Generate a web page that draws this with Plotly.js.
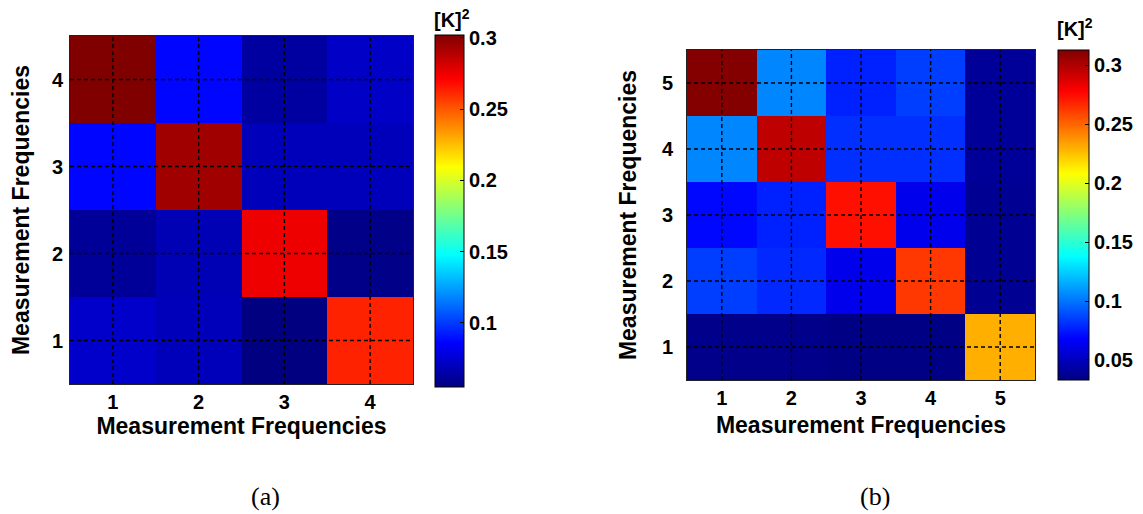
<!DOCTYPE html>
<html>
<head>
<meta charset="utf-8">
<script src="https://cdn.plot.ly/plotly-3.0.1.min.js"></script>
<style>html,body{margin:0;padding:0;background:#fff;}#chart{width:1143px;height:514px;}</style>
</head>
<body>
<div id="chart"></div>
<script>
// ---- data ----
const freqA = [1, 2, 3, 4];
const tickLabelsA = ['1', '2', '3', '4'];
// rows: y = 1..4 (bottom to top), columns: x = 1..4
const zA = [
  [0.073, 0.069, 0.055, 0.263],
  [0.061, 0.068, 0.275, 0.057],
  [0.087, 0.294, 0.069, 0.069],
  [0.302, 0.087, 0.063, 0.072]
];
const freqB = [1, 2, 3, 4, 5];
const tickLabelsB = ['1', '2', '3', '4', '5'];
// rows: y = 1..5 (bottom to top), columns: x = 1..5
const zB = [
  [0.036, 0.036, 0.034, 0.034, 0.230],
  [0.085, 0.079, 0.063, 0.263, 0.038],
  [0.070, 0.077, 0.274, 0.063, 0.038],
  [0.105, 0.296, 0.081, 0.081, 0.040],
  [0.312, 0.105, 0.077, 0.085, 0.040]
];
const cbTicksA = [0.1, 0.15, 0.2, 0.25, 0.3];
const cbTicksB = [0.05, 0.1, 0.15, 0.2, 0.25, 0.3];
const rangeA = [0.055, 0.302];
const rangeB = [0.033, 0.313];
const axisTitle = 'Measurement Frequencies';
const cbTitle = '[K]<sup>2</sup>';
const captions = ['(a)', '(b)'];

// ---- styling ----
const W = 1143, H = 514;
const px = v => v / W, py = v => 1 - v / H;
const jet = [[0, 'rgb(0,0,128)'], [0.125, 'rgb(0,0,255)'], [0.375, 'rgb(0,255,255)'],
             [0.625, 'rgb(255,255,0)'], [0.875, 'rgb(255,0,0)'], [1, 'rgb(128,0,0)']];
const FONT = '"Liberation Sans", Arial, sans-serif';
const SERIF = '"Liberation Serif", "Times New Roman", serif';
const tickFont = {family: FONT, size: 20, color: '#000', weight: 'bold'};
const titleFont = {family: FONT, size: 23, color: '#000', weight: 'bold'};

const boxA = {x0: 70, x1: 413, y0: 36, y1: 384};
const boxB = {x0: 687, x1: 1035, y0: 50, y1: 380};
const cbA = {x: 435, top: 35, bot: 387, th: 29};
const cbB = {x: 1058, top: 50, bot: 380, th: 31};

function colorbar(cb, ticks) {
  return {
    x: px(cb.x), xanchor: 'left', xpad: 0, ypad: 0,
    y: py(cb.top), yanchor: 'top', len: (cb.bot - cb.top) / H, lenmode: 'fraction',
    thickness: cb.th, thicknessmode: 'pixels',
    outlinewidth: 1, outlinecolor: '#000',
    tickvals: ticks, ticktext: ticks.map(String),
    ticks: 'inside', ticklen: 4, tickcolor: '#000', tickwidth: 1,
    tickfont: tickFont
  };
}

const traces = [
  {type: 'heatmap', x: freqA, y: freqA, z: zA, colorscale: jet, zmin: rangeA[0], zmax: rangeA[1],
   xaxis: 'x', yaxis: 'y', colorbar: colorbar(cbA, cbTicksA), hoverinfo: 'z'},
  {type: 'heatmap', x: freqB, y: freqB, z: zB, colorscale: jet, zmin: rangeB[0], zmax: rangeB[1],
   xaxis: 'x2', yaxis: 'y2', colorbar: colorbar(cbB, cbTicksB), hoverinfo: 'z'}
];

function axis(box, horiz, vals, labels, anchor, tlen, standoff) {
  return {
    domain: horiz ? [px(box.x0), px(box.x1)] : [py(box.y1), py(box.y0)],
    anchor: anchor,
    tickvals: vals, ticktext: labels,
    range: [vals[0] - 0.5, vals[vals.length - 1] + 0.5],
    showgrid: false, zeroline: false,
    showline: true, mirror: true, linecolor: '#222', linewidth: 1,
    ticks: tlen > 0 ? 'outside' : '', ticklen: tlen, tickcolor: 'rgba(0,0,0,0)',
    tickfont: tickFont, automargin: false, fixedrange: true,
    title: {text: axisTitle, font: titleFont, standoff: standoff}
  };
}

const shapes = [];
function grid(vals, xa, ya) {
  vals.forEach(v => {
    shapes.push({type: 'line', xref: xa, yref: ya + ' domain', x0: v, x1: v, y0: 0, y1: 1,
                 line: {color: '#000', width: 1.4, dash: '4px,3px'}, layer: 'above'});
    shapes.push({type: 'line', xref: xa + ' domain', yref: ya, x0: 0, x1: 1, y0: v, y1: v,
                 line: {color: '#000', width: 1.4, dash: '4px,3px'}, layer: 'above'});
  });
}
grid(freqA, 'x', 'y');
grid(freqB, 'x2', 'y2');

const annotations = [
  {text: cbTitle, xref: 'paper', yref: 'paper', x: px(432), y: py(4), xanchor: 'left', yanchor: 'top',
   showarrow: false, font: {family: FONT, size: 20, color: '#000', weight: 'bold'}},
  {text: cbTitle, xref: 'paper', yref: 'paper', x: px(1055), y: py(13), xanchor: 'left', yanchor: 'top',
   showarrow: false, font: {family: FONT, size: 20, color: '#000', weight: 'bold'}},
  {text: captions[0], xref: 'paper', yref: 'paper', x: px(265), y: py(496), xanchor: 'center', yanchor: 'middle',
   showarrow: false, font: {family: SERIF, size: 26, color: '#000'}},
  {text: captions[1], xref: 'paper', yref: 'paper', x: px(875), y: py(496), xanchor: 'center', yanchor: 'middle',
   showarrow: false, font: {family: SERIF, size: 26, color: '#000'}}
];

const layout = {
  width: W, height: H,
  margin: {l: 0, r: 0, t: 0, b: 0},
  paper_bgcolor: '#fff', plot_bgcolor: '#fff',
  showlegend: false,
  xaxis: axis(boxA, true, freqA, tickLabelsA, 'y', 0, 4),
  yaxis: axis(boxA, false, freqA, tickLabelsA, 'x', 2, 15),
  xaxis2: axis(boxB, true, freqB, tickLabelsB, 'y2', 0, 8),
  yaxis2: axis(boxB, false, freqB, tickLabelsB, 'x2', 9, 18),
  shapes: shapes,
  annotations: annotations
};

Plotly.newPlot('chart', traces, layout, {displayModeBar: false, staticPlot: true});
</script>
</body>
</html>
